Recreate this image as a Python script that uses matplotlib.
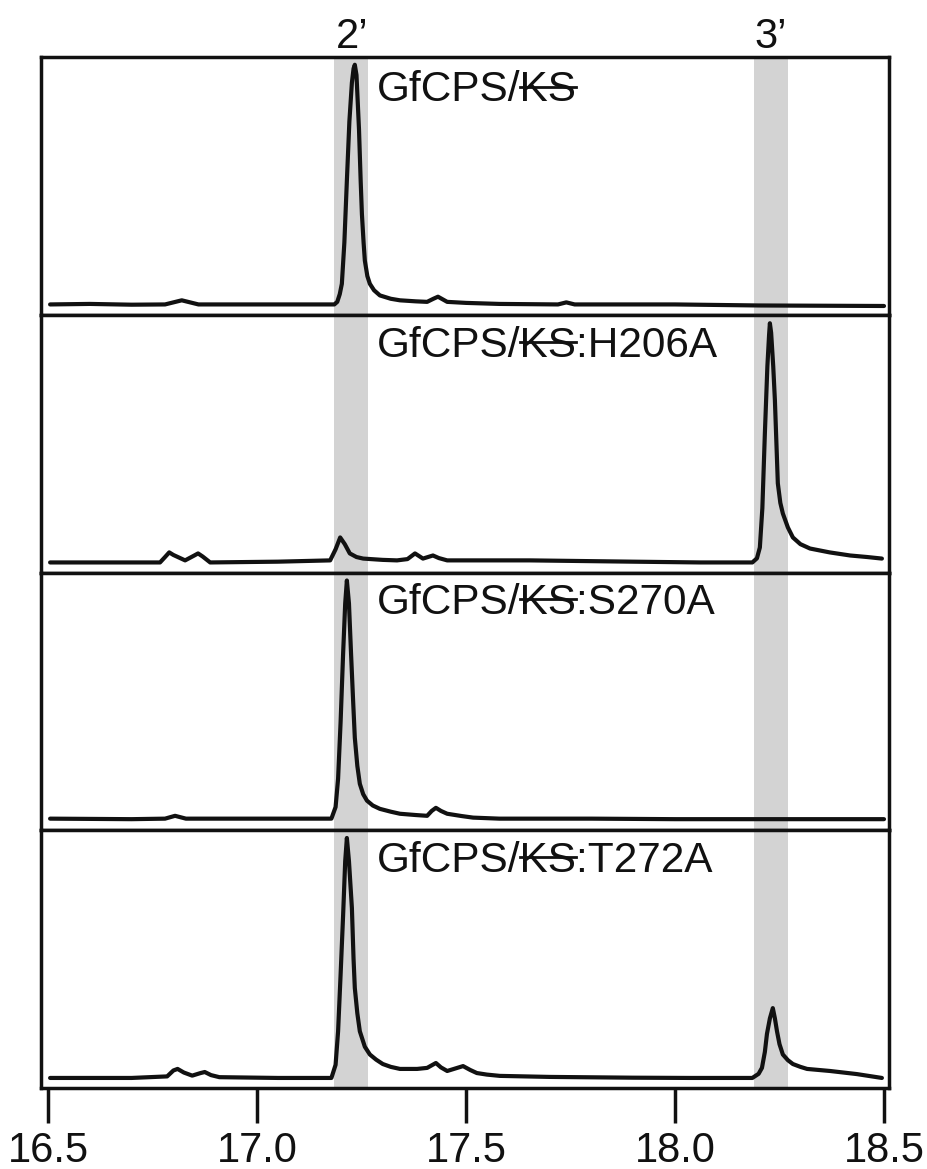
import matplotlib
matplotlib.use("Agg")
import matplotlib.pyplot as plt
from matplotlib.lines import Line2D

# ---------------- data (retention time in min, signal in % of panel height) -------------
time_1 = [16.505, 16.60, 16.70, 16.78, 16.805, 16.82, 16.835, 16.86, 17.00, 17.10,
          17.185, 17.192, 17.198, 17.203, 17.209, 17.215, 17.221, 17.227, 17.231, 17.234,
          17.238, 17.244, 17.248, 17.251, 17.255, 17.258, 17.264, 17.270, 17.280, 17.294,
          17.32, 17.342, 17.38, 17.407, 17.422, 17.433, 17.444, 17.455, 17.50, 17.58,
          17.72, 17.74, 17.76, 18.0, 18.2, 18.5]
signal_1 = [4.0, 4.2, 3.9, 4.0, 5.0, 5.6, 5.0, 4.0, 4.0, 4.0,
            4.0, 5.0, 8.0, 12, 28, 52, 75, 90, 95.5, 97,
            93, 72, 52, 39, 28, 21, 15, 12, 9.5, 7.5,
            6.2, 5.6, 5.2, 5.0, 6.2, 7.0, 6.0, 5.0, 4.6, 4.2,
            4.0, 4.8, 4.0, 4.0, 3.6, 3.4]

time_2 = [16.505, 16.70, 16.768, 16.78, 16.79, 16.80, 16.828, 16.85, 16.859, 16.87,
          16.888, 17.05, 17.175, 17.188, 17.199, 17.21, 17.222, 17.238, 17.254, 17.30,
          17.335, 17.36, 17.378, 17.397, 17.421, 17.435, 17.455, 17.653, 17.9, 18.06,
          18.185, 18.196, 18.203, 18.209, 18.215, 18.221, 18.225, 18.227, 18.230, 18.235,
          18.239, 18.246, 18.252, 18.258, 18.27, 18.282, 18.30, 18.323, 18.37, 18.419,
          18.46, 18.495]
signal_2 = [3.9, 3.9, 3.9, 6.0, 7.8, 6.8, 4.7, 6.6, 7.4, 6.2,
            3.9, 4.2, 4.7, 9.0, 13.6, 11, 7.4, 6.0, 5.4, 4.9,
            4.7, 5.2, 7.4, 5.4, 6.6, 5.6, 4.7, 4.7, 4.2, 3.9,
            3.9, 5.5, 9.7, 25, 54, 80, 92, 96.7, 93, 80,
            66.8, 34.6, 27, 22.9, 17.5, 13.6, 11, 9.3, 7.8, 6.6,
            6.0, 5.4]

time_3 = [16.505, 16.70, 16.78, 16.804, 16.83, 17.0, 17.178, 17.188, 17.194, 17.200,
          17.206, 17.211, 17.215, 17.220, 17.225, 17.230, 17.234, 17.240, 17.246, 17.254,
          17.263, 17.277, 17.294, 17.32, 17.342, 17.38, 17.407, 17.418, 17.428, 17.44,
          17.455, 17.49, 17.517, 17.58, 17.8, 18.0, 18.2, 18.5]
signal_3 = [4.5, 4.3, 4.5, 5.6, 4.5, 4.5, 4.5, 9, 20, 42,
            68.5, 88, 96.9, 88, 68.5, 50, 35.9, 25, 18, 14,
            11.5, 9.6, 8.3, 7.2, 6.4, 5.9, 5.6, 7.5, 8.7, 7.5,
            6.4, 5.5, 4.9, 4.5, 4.5, 4.3, 4.3, 4.3]

time_4 = [16.505, 16.70, 16.785, 16.80, 16.81, 16.825, 16.845, 16.865, 16.875, 16.89,
          16.91, 17.05, 17.178, 17.188, 17.194, 17.200, 17.206, 17.211, 17.215, 17.220,
          17.227, 17.231, 17.234, 17.240, 17.246, 17.258, 17.270, 17.285, 17.301, 17.32,
          17.342, 17.383, 17.407, 17.418, 17.428, 17.44, 17.455, 17.475, 17.493, 17.51,
          17.526, 17.55, 17.581, 17.70, 17.9, 18.036, 18.185, 18.200, 18.208, 18.215,
          18.220, 18.227, 18.234, 18.239, 18.244, 18.250, 18.258, 18.27, 18.282, 18.30,
          18.316, 18.371, 18.435, 18.495]
signal_4 = [3.9, 3.9, 4.5, 6.8, 7.4, 6.0, 4.8, 5.8, 6.2, 5.0,
            4.2, 3.9, 3.9, 9, 22, 44, 67, 88, 97, 88,
            69.9, 50, 38.8, 29, 22, 16, 13, 11, 9.3, 8.2,
            7.4, 7.4, 7.8, 8.8, 9.7, 8.0, 6.6, 7.6, 8.5, 7.0,
            5.8, 5.2, 4.7, 4.3, 4.0, 3.9, 3.9, 5.5, 7.8, 14,
            21, 27, 31, 27, 22, 17, 13, 10.8, 9.3, 8.2,
            7.4, 6.6, 5.4, 3.9]

times = [time_1, time_2, time_3, time_4]
signals = [signal_1, signal_2, signal_3, signal_4]

label_prefix = "GfCPS/"
label_struck = "KS"
label_suffixes = ["", ":H206A", ":S270A", ":T272A"]

band_ranges = [(17.185, 17.265), (18.19, 18.27)]
band_labels = ["2\u2019", "3\u2019"]
band_label_x = [17.227, 18.229]

xticks = [16.5, 17.0, 17.5, 18.0, 18.5]
xtick_labels = ["16.5", "17.0", "17.5", "18.0", "18.5"]

# ---------------- layout ----------------
W, H = 927, 1169
fig = plt.figure(figsize=(W / 100, H / 100), dpi=100)
plt.rcParams["font.family"] = ["Liberation Sans", "DejaVu Sans"]

left_px, right_px = 41, 889
top_px, bottom_px = 57, 1088
panel_h = (bottom_px - top_px) / 4.0
label_offsets_px = [13, 11, 10, 10.5]
label_fs = 30.5

axes = []
for i in range(4):
    y_top = top_px + i * panel_h
    ax = fig.add_axes([left_px / W, 1 - (y_top + panel_h) / H,
                       (right_px - left_px) / W, panel_h / H])
    axes.append(ax)

xmin = 16.5 - (48 - left_px) / 418.0
xmax = 18.5 + (right_px - 884) / 418.0

texts = []
for i, ax in enumerate(axes):
    ax.set_xlim(xmin, xmax)
    ax.set_ylim(0, 100)
    for (a, b) in band_ranges:
        ax.axvspan(a, b, color="#d3d3d3", lw=0, zorder=0)
    ax.plot(times[i], signals[i], color="#111111", lw=3.0,
            solid_joinstyle="round", solid_capstyle="round", zorder=3)
    for s in ax.spines.values():
        s.set_linewidth(2.5)
        s.set_color("#111111")
        s.set_zorder(5)
    ax.set_yticks([])
    if i < 3:
        ax.set_xticks([])
    else:
        ax.set_xticks(xticks)
        ax.set_xticklabels(xtick_labels, fontsize=30)
        ax.tick_params(axis="x", direction="out", length=25, width=2.5,
                       color="#111111", pad=6, labelcolor="#111111")
    t = ax.text(17.287, 1 - label_offsets_px[i] / panel_h,
                label_prefix + label_struck + label_suffixes[i],
                transform=ax.get_xaxis_transform(), ha="left", va="top",
                fontsize=label_fs, color="#111111", zorder=6)
    texts.append(t)

for lab, x in zip(band_labels, band_label_x):
    axes[0].annotate(lab, xy=(x, 1.0), xycoords=axes[0].get_xaxis_transform(),
                     xytext=(0, 6.5), textcoords="offset points",
                     ha="center", va="baseline", fontsize=30, color="#111111",
                     annotation_clip=False)

# strike-through over "KS"
fig.canvas.draw()
renderer = fig.canvas.get_renderer()
for t in texts:
    fp = t.get_fontproperties()
    w_pre, _, _ = renderer.get_text_width_height_descent(label_prefix, fp, ismath=False)
    w_ks, _, _ = renderer.get_text_width_height_descent(label_prefix + label_struck, fp, ismath=False)
    bb = t.get_window_extent(renderer)
    _, h_full, d_full = renderer.get_text_width_height_descent(t.get_text(), fp, ismath=False)
    baseline = bb.y1 - (h_full - d_full)
    fs_px = fp.get_size_in_points() * 100 / 72.0
    y_strike = baseline + 0.34 * fs_px
    x0 = bb.x0 + w_pre - 0.02 * fs_px
    x1 = bb.x0 + w_ks - 0.02 * fs_px
    fig.add_artist(Line2D([x0, x1], [y_strike, y_strike], transform=None,
                          color="#111111", lw=2.0))

fig.savefig("out.png", dpi=100)
